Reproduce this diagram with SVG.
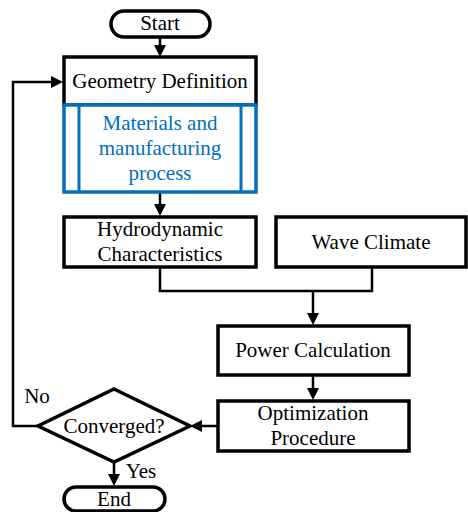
<svg xmlns="http://www.w3.org/2000/svg" width="468" height="512" viewBox="0 0 468 512">
<style>
.b{fill:#fff;stroke:#000;stroke-width:3.5}
.bl{fill:#fff;stroke:#0070C0;stroke-width:3.5}
.c{fill:none;stroke:#000;stroke-width:2.5}
.a{fill:#000}
</style>
<g id="connectors">
<path class="c" d="M160,38 V48"/>
<polygon class="a" points="154,45 166,45 160,57"/>
<path class="c" d="M160,192 V207"/>
<polygon class="a" points="154,204 166,204 160,216"/>
<path class="c" d="M160,268 V291 H372 V268"/>
<path class="c" d="M313,290 V316"/>
<polygon class="a" points="307,313 319,313 313,325"/>
<path class="c" d="M313,375 V391"/>
<polygon class="a" points="307,388 319,388 313,400"/>
<path class="c" d="M217,426 H199"/>
<polygon class="a" points="202,420 202,432 190,426"/>
<path class="c" d="M38,426 H13 V82 H54"/>
<polygon class="a" points="51,76 51,88 63,82"/>
<path class="c" d="M114,463 V477"/>
<polygon class="a" points="108,474 120,474 114,486"/>
</g>
<g font-family="'Liberation Serif', 'Times New Roman', serif" font-size="21" text-anchor="middle" fill="#000">
<g id="start">
<rect class="b" x="111" y="11" width="99" height="26" rx="13"/>
<text x="160" y="30">Start</text>
</g>
<g id="geometry">
<rect class="b" x="64" y="57" width="192" height="48"/>
<text x="160" y="88">Geometry Definition</text>
</g>
<g id="materials">
<rect class="bl" x="64" y="105" width="192" height="87"/>
<line x1="79" y1="105" x2="79" y2="192" stroke="#0070C0" stroke-width="3"/>
<line x1="241" y1="105" x2="241" y2="192" stroke="#0070C0" stroke-width="3"/>
<text fill="#0070C0" x="160" y="130">Materials and</text>
<text fill="#0070C0" x="160" y="155">manufacturing</text>
<text fill="#0070C0" x="160" y="180">process</text>
</g>
<g id="hydro">
<rect class="b" x="64" y="217" width="192" height="50"/>
<text x="160" y="236">Hydrodynamic</text>
<text x="160" y="261">Characteristics</text>
</g>
<g id="wave">
<rect class="b" x="276" y="217" width="190" height="50"/>
<text x="371" y="249">Wave Climate</text>
</g>
<g id="power">
<rect class="b" x="218" y="326" width="191" height="49"/>
<text x="313" y="357">Power Calculation</text>
</g>
<g id="optim">
<rect class="b" x="218" y="401" width="191" height="50"/>
<text x="313" y="420">Optimization</text>
<text x="313" y="445">Procedure</text>
</g>
<g id="converged">
<polygon class="b" points="114,389 190,426 114,462 38,426"/>
<text x="114" y="433">Converged?</text>
</g>
<text x="37" y="403">No</text>
<text x="141" y="478">Yes</text>
<g id="end">
<rect class="b" x="64" y="487" width="101" height="24" rx="12"/>
<text x="114" y="506">End</text>
</g>
</g>
</svg>
